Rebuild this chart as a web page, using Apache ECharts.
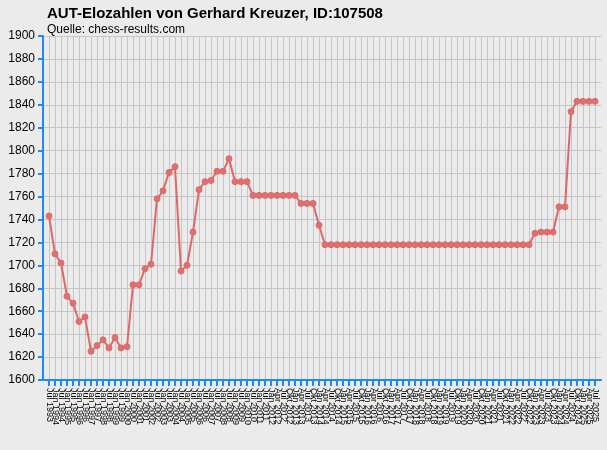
<!DOCTYPE html>
<html>
<head>
<meta charset="utf-8">
<script src="https://cdn.jsdelivr.net/npm/echarts@6/dist/echarts.min.js"></script>
<style>
html,body{margin:0;padding:0;background:#ebebeb;}
#c{width:607px;height:450px;}
</style>
</head>
<body>
<div id="c"></div>
<script>
// Categories: semiannual Jul 1993 .. Jul 2011, then quarterly Jan 2012 .. Jul 2025
const categories = [
  "Jul 1993","Jan 1994","Jul 1994","Jan 1995","Jul 1995","Jan 1996","Jul 1996","Jan 1997","Jul 1997",
  "Jan 1998","Jul 1998","Jan 1999","Jul 1999","Jan 2000","Jul 2000","Jan 2001","Jul 2001","Jan 2002",
  "Jul 2002","Jan 2003","Jul 2003","Jan 2004","Jul 2004","Jan 2005","Jul 2005","Jan 2006","Jul 2006",
  "Jan 2007","Jul 2007","Jan 2008","Jul 2008","Jan 2009","Jul 2009","Jan 2010","Jul 2010","Jan 2011",
  "Jul 2011",
  "Jan 2012","Apr 2012","Jul 2012","Okt 2012","Jan 2013","Apr 2013","Jul 2013","Okt 2013",
  "Jan 2014","Apr 2014","Jul 2014","Okt 2014","Jan 2015","Apr 2015","Jul 2015","Okt 2015",
  "Jan 2016","Apr 2016","Jul 2016","Okt 2016","Jan 2017","Apr 2017","Jul 2017","Okt 2017",
  "Jan 2018","Apr 2018","Jul 2018","Okt 2018","Jan 2019","Apr 2019","Jul 2019","Okt 2019",
  "Jan 2020","Apr 2020","Jul 2020","Okt 2020","Jan 2021","Apr 2021","Jul 2021","Okt 2021",
  "Jan 2022","Apr 2022","Jul 2022","Okt 2022","Jan 2023","Apr 2023","Jul 2023","Okt 2023",
  "Jan 2024","Apr 2024","Jul 2024","Okt 2024","Jan 2025","Apr 2025","Jul 2025"
];
const eloValues = [
  1743,1710,1702,1673,1667,1651,1655,1625,1630,1635,1628,1637,1628,1629,1683,1683,1697,1701,
  1758,1765,1781,1786,1695,1700,1729,1766,1773,1774,1782,1782,1793,1773,1773,1773,
  1761,1761,1761,1761,1761,1761,1761,1761,
  1754,1754,1754,
  1735,
  1718,1718,1718,1718,1718,1718,1718,1718,1718,1718,1718,1718,1718,1718,1718,1718,1718,1718,
  1718,1718,1718,1718,1718,1718,1718,1718,1718,1718,1718,1718,1718,1718,1718,1718,1718,
  1728,1729,1729,1729,1751,1751,1834,1843,1843,1843,1843
];
const yMin = 1600, yMax = 1900, yStep = 20;
const titleText = "AUT-Elozahlen von Gerhard Kreuzer, ID:107508";
const subText = "Quelle: chess-results.com";

const blue = '#1e88ff';
const chart = echarts.init(document.getElementById('c'), null, {renderer:'canvas'});
chart.setOption({
  backgroundColor: '#ebebeb',
  animation: false,
  textStyle: {fontFamily: 'Liberation Sans, Arial, sans-serif'},
  title: {
    text: titleText,
    subtext: subText,
    left: 42, top: 1,
    itemGap: 3,
    textStyle: {fontSize: 15, fontWeight: 'bold', color: '#000', fontFamily: 'Liberation Sans'},
    subtextStyle: {fontSize: 12, color: '#000', fontFamily: 'Liberation Sans'}
  },
  grid: [
    {left: 49, right: 12, top: 36, bottom: 70},
    {left: 43, right: 6, top: 36, bottom: 70}
  ],
  xAxis: [
    {
      type: 'category', gridIndex: 0, data: categories, boundaryGap: false,
      axisLine: {show: false},
      axisTick: {show: true, inside: false, length: 6, interval: 0, lineStyle: {color: blue, width: 2}},
      axisLabel: {interval: 0, rotate: -90, fontSize: 9, color: '#000', margin: 8, fontFamily: 'Liberation Sans'},
      splitLine: {show: true, interval: 0, lineStyle: {color: '#c6c6c6', width: 1}}
    },
    {
      type: 'value', gridIndex: 1, min: 0, max: 1, interval: 1,
      axisLine: {show: true, onZero: false, lineStyle: {color: blue, width: 2}},
      axisTick: {show: false}, axisLabel: {show: false}, splitLine: {show: false}
    }
  ],
  yAxis: [
    {
      type: 'value', gridIndex: 0, min: yMin, max: yMax, interval: yStep, show: false
    },
    {
      type: 'value', gridIndex: 1, min: yMin, max: yMax, interval: yStep,
      axisLine: {show: true, lineStyle: {color: blue, width: 2}},
      axisTick: {show: true, length: 5, lineStyle: {color: blue, width: 2}},
      axisLabel: {fontSize: 12, color: '#000', margin: 8, fontFamily: 'Liberation Sans',
                  formatter: function (v) { return String(v); }},
      splitLine: {show: true, lineStyle: {color: '#c6c6c6', width: 1}}
    }
  ],
  series: [{
    type: 'line', xAxisIndex: 0, yAxisIndex: 0,
    data: eloValues,
    symbol: 'circle', symbolSize: 6, showAllSymbol: true,
    lineStyle: {color: '#de6868', width: 2},
    itemStyle: {color: '#e07070', borderColor: '#de6868', borderWidth: 1},
    z: 5
  }]
});
</script>
</body>
</html>
